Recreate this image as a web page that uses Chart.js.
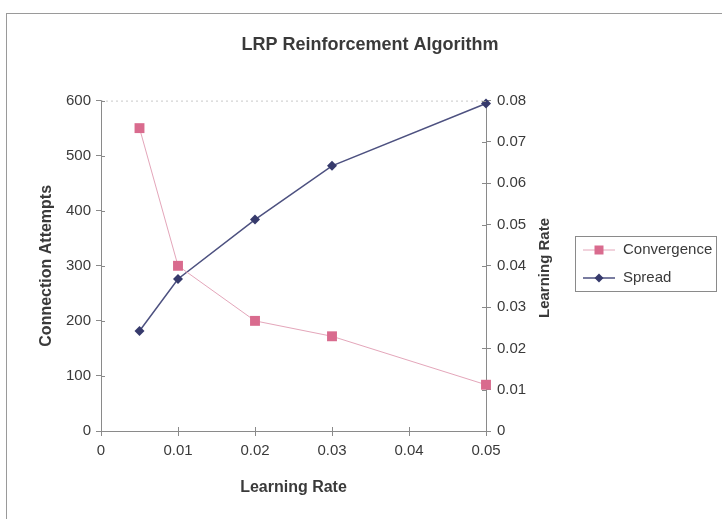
<!DOCTYPE html>
<html>
<head>
<meta charset="utf-8">
<script src="https://cdn.jsdelivr.net/npm/chart.js@4/dist/chart.umd.min.js"></script>
<style>
  html, body { margin: 0; padding: 0; background: #fff; }
  #wrap { width: 722px; height: 519px; }
</style>
</head>
<body>
<div id="wrap"><canvas id="lrpChart" width="722" height="519"></canvas></div>
<script>
// learning rate samples (x)
var rates = [0.005, 0.01, 0.02, 0.03, 0.05];
// connection attempts until convergence (left axis)
var convergence = [550, 300, 200, 172, 84];
// spread of learned rate (right axis)
var spread = [0.0242, 0.0368, 0.0512, 0.0642, 0.0793];

var seriesNames = ['Convergence', 'Spread'];
var chartTitle = 'LRP Reinforcement Algorithm';
var xTitle = 'Learning Rate';
var leftTitle = 'Connection Attempts';
var rightTitle = 'Learning Rate';

var pinkMark = '#d96b8e';
var pinkLine = '#e4a6ba';
var navyMark = '#363a6c';
var navyLine = '#4d5180';
var axisGrey = '#8a8a8a';
var textCol = '#3a3a3a';
var fontFam = '"Liberation Sans", Arial, sans-serif';

function toPoints(xs, ys){
    var pts = [];
    for (var i = 0; i < xs.length; i++) pts.push({x: xs[i], y: ys[i]});
    return pts;
}

// frame, dotted top edge, inner tick marks, rotated right title and boxed legend
var excelBits = {
    id: 'excelBits',
    beforeDraw: function(chart){
        var ctx = chart.ctx;
        ctx.save();
        ctx.fillStyle = '#fff';
        ctx.fillRect(0, 0, chart.width, chart.height);
        ctx.strokeStyle = '#9a9a9a';
        ctx.lineWidth = 1;
        ctx.strokeRect(6.5, 13.5, chart.width + 10, chart.height + 10);
        ctx.restore();
    },
    afterDraw: function(chart){
        var ctx = chart.ctx;
        var a = chart.chartArea;
        var sx = chart.scales.x, sl = chart.scales.y, sr = chart.scales.y1;
        ctx.save();
        ctx.strokeStyle = '#c8c8c8';
        ctx.setLineDash([2, 3]);
        ctx.beginPath();
        ctx.moveTo(a.left, a.top + 0.5);
        ctx.lineTo(a.right, a.top + 0.5);
        ctx.stroke();
        ctx.setLineDash([]);

        // ticks crossing into the plot
        ctx.strokeStyle = axisGrey;
        ctx.beginPath();
        sx.ticks.forEach(function(t){
            var px = Math.round(sx.getPixelForValue(t.value)) + 0.5;
            ctx.moveTo(px, a.bottom); ctx.lineTo(px, a.bottom - 4);
        });
        sl.ticks.forEach(function(t){
            var py = Math.round(sl.getPixelForValue(t.value)) + 0.5;
            ctx.moveTo(a.left, py); ctx.lineTo(a.left + 4, py);
        });
        sr.ticks.forEach(function(t){
            var py = Math.round(sr.getPixelForValue(t.value)) + 0.5;
            ctx.moveTo(a.right, py); ctx.lineTo(a.right - 4, py);
        });
        ctx.stroke();

        // right axis title, reading upward
        ctx.fillStyle = textCol;
        ctx.font = 'bold 15px ' + fontFam;
        ctx.textAlign = 'center';
        ctx.textBaseline = 'middle';
        ctx.translate(545, 268);
        ctx.rotate(-Math.PI / 2);
        ctx.fillText(rightTitle, 0, 0);
        ctx.restore();

        // legend
        ctx.save();
        var bx = 575.5, by = 236.5, bw = 141, bh = 55;
        ctx.strokeStyle = '#8a8a8a';
        ctx.lineWidth = 1;
        ctx.strokeRect(bx, by, bw, bh);
        var sets = chart.data.datasets;
        ctx.font = '15px ' + fontFam;
        ctx.textAlign = 'left';
        ctx.textBaseline = 'middle';
        for (var i = 0; i < sets.length; i++){
            var ly = 250 + i * 28;
            ctx.strokeStyle = sets[i].borderColor;
            ctx.lineWidth = sets[i].borderWidth;
            ctx.beginPath();
            ctx.moveTo(583, ly); ctx.lineTo(615, ly);
            ctx.stroke();
            ctx.fillStyle = sets[i].pointBackgroundColor;
            ctx.beginPath();
            if (sets[i].pointStyle === 'rect'){
                ctx.rect(594.5, ly - 4.5, 9, 9);
            } else {
                ctx.moveTo(599, ly - 4.5); ctx.lineTo(603.5, ly);
                ctx.lineTo(599, ly + 4.5); ctx.lineTo(594.5, ly);
                ctx.closePath();
            }
            ctx.fill();
            ctx.fillStyle = textCol;
            ctx.fillText(sets[i].label, 623, ly);
        }
        ctx.restore();
    }
};

var tickFont = {family: fontFam, size: 15};
var titleFont = {family: fontFam, size: 16, weight: 'bold'};

new Chart(document.getElementById('lrpChart'), {
    type: 'scatter',
    data: {
        datasets: [{
            label: seriesNames[0],
            data: toPoints(rates, convergence),
            yAxisID: 'y',
            showLine: true,
            clip: false,
            borderColor: pinkLine,
            borderWidth: 1,
            pointStyle: 'rect',
            pointRadius: 7,
            pointHoverRadius: 7,
            pointBackgroundColor: pinkMark,
            pointBorderColor: pinkMark,
            pointBorderWidth: 0
        }, {
            label: seriesNames[1],
            data: toPoints(rates, spread),
            yAxisID: 'y1',
            showLine: true,
            clip: false,
            borderColor: navyLine,
            borderWidth: 1.5,
            pointStyle: 'rectRot',
            pointRadius: 5,
            pointHoverRadius: 5,
            pointBackgroundColor: navyMark,
            pointBorderColor: navyMark,
            pointBorderWidth: 0
        }]
    },
    options: {
        responsive: false,
        animation: false,
        events: [],
        layout: {padding: {left: 18, top: 0, right: 0, bottom: 0}},
        plugins: {
            legend: {display: false},
            tooltip: {enabled: false},
            title: {
                display: true,
                text: chartTitle,
                color: textCol,
                font: {family: fontFam, size: 18, weight: 'bold'},
                padding: {top: 34, bottom: 45}
            }
        },
        scales: {
            x: {
                type: 'linear',
                min: 0, max: 0.05,
                ticks: {stepSize: 0.01, color: textCol, font: tickFont, padding: 6},
                grid: {drawOnChartArea: false, color: axisGrey, tickLength: 5},
                border: {color: axisGrey},
                title: {display: true, text: xTitle, color: textCol, font: titleFont, padding: {bottom: 22}},
                afterFit: function(s){ s.height = 88; }
            },
            y: {
                position: 'left',
                min: 0, max: 600,
                ticks: {stepSize: 100, color: textCol, font: tickFont, padding: 5},
                grid: {drawOnChartArea: false, color: axisGrey, tickLength: 5},
                border: {color: axisGrey},
                title: {display: true, text: leftTitle, color: textCol, font: titleFont, padding: {top: 19}},
                afterFit: function(s){ s.width = 83; }
            },
            y1: {
                position: 'right',
                min: 0, max: 0.08,
                ticks: {stepSize: 0.01, color: textCol, font: tickFont, padding: 6},
                grid: {drawOnChartArea: false, color: axisGrey, tickLength: 5},
                border: {color: axisGrey},
                afterFit: function(s){ s.width = 236; }
            }
        }
    },
    plugins: [excelBits]
});
</script>
</body>
</html>
